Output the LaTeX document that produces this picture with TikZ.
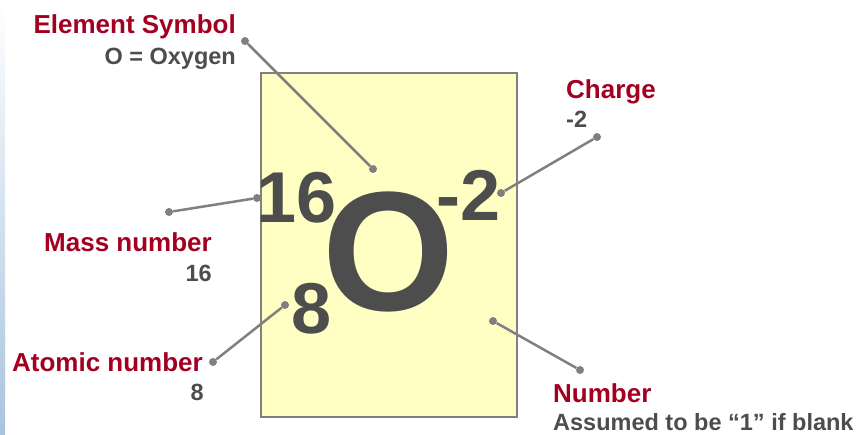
\documentclass[tikz,border=0pt]{standalone}
\usepackage{fontspec}
\setmainfont{Liberation Sans}
\usepackage{xcolor}
\usepackage{tikz}
\usetikzlibrary{positioning}
\definecolor{labelred}{RGB}{163,0,33}
\definecolor{notegray}{RGB}{77,77,77}
\definecolor{linegray}{RGB}{128,128,128}
\definecolor{cardfill}{RGB}{255,255,195}
\definecolor{stripblue}{RGB}{168,196,222}
\begin{document}
\begin{tikzpicture}[x=1pt,y=-1pt,
  card/.style={draw=linegray,line width=1.5pt,fill=cardfill,
               minimum width=256pt,minimum height=344pt,inner sep=0pt},
  title/.style={text=labelred,inner sep=0pt,
                font=\fontsize{26}{26}\selectfont\bfseries},
  note/.style ={text=notegray,inner sep=0pt,
                font=\fontsize{23.5}{23.5}\selectfont\bfseries},
  big/.style  ={text=notegray,inner sep=0pt,anchor=base},
  dot/.style  ={circle,fill=linegray,inner sep=0pt,minimum size=8pt},
  lead/.style ={draw=linegray,line width=2.5pt}]
  \useasboundingbox (0,0) rectangle (862,434);
  \shade[top color=white,bottom color=stripblue] (0,0) rectangle (5,434);
  \node[card] (card) at (389,245) {};
  % the symbol
  \node[big,font=\fontsize{170}{170}\selectfont\bfseries] (sym) at (388.5,310) {O};
  \node[big,font=\fontsize{72}{72}\selectfont\bfseries] (mass) at (297,222) {16};
  \node[big,font=\fontsize{72}{72}\selectfont\bfseries] (atom) at (311.5,333) {8};
  \node[big,font=\fontsize{72}{72}\selectfont\bfseries] (chg) at (469,220) {-2};
  % labels
  \node[title,anchor=base east] (estitle) at (236,33) {Element Symbol};
  \node[note,anchor=base east] (esnote) at (236,64) {O = Oxygen};
  \node[title,anchor=base west] (chtitle) at (566,98) {Charge};
  \node[note,anchor=base west] (chnote) at (566,127) {-2};
  \node[title,anchor=base east] (mstitle) at (212,251) {Mass number};
  \node[note,anchor=base east] (msnote) at (212,281) {16};
  \node[title,anchor=base east] (attitle) at (203,371) {Atomic number};
  \node[note,anchor=base east] (atnote) at (204,400) {8};
  \node[title,anchor=base west] (nbtitle) at (553,402) {Number};
  \node[note,anchor=base west] (nbnote) at (553,430) {Assumed to be “1” if blank};
  % leader lines
  \node[dot] (es1) at (245,41) {};  \node[dot] (es2) at (373,169) {};
  \node[dot] (ch1) at (597,137) {}; \node[dot] (ch2) at (501,193) {};
  \node[dot] (ms1) at (169,212) {}; \node[dot] (ms2) at (257,198) {};
  \node[dot] (at1) at (213,362) {}; \node[dot] (at2) at (285,305) {};
  \node[dot] (nb1) at (580,370) {}; \node[dot] (nb2) at (493,321) {};
  \draw[lead] (es1)--(es2); \draw[lead] (ch1)--(ch2);
  \draw[lead] (ms1)--(ms2); \draw[lead] (at1)--(at2);
  \draw[lead] (nb1)--(nb2);
\end{tikzpicture}
\end{document}
